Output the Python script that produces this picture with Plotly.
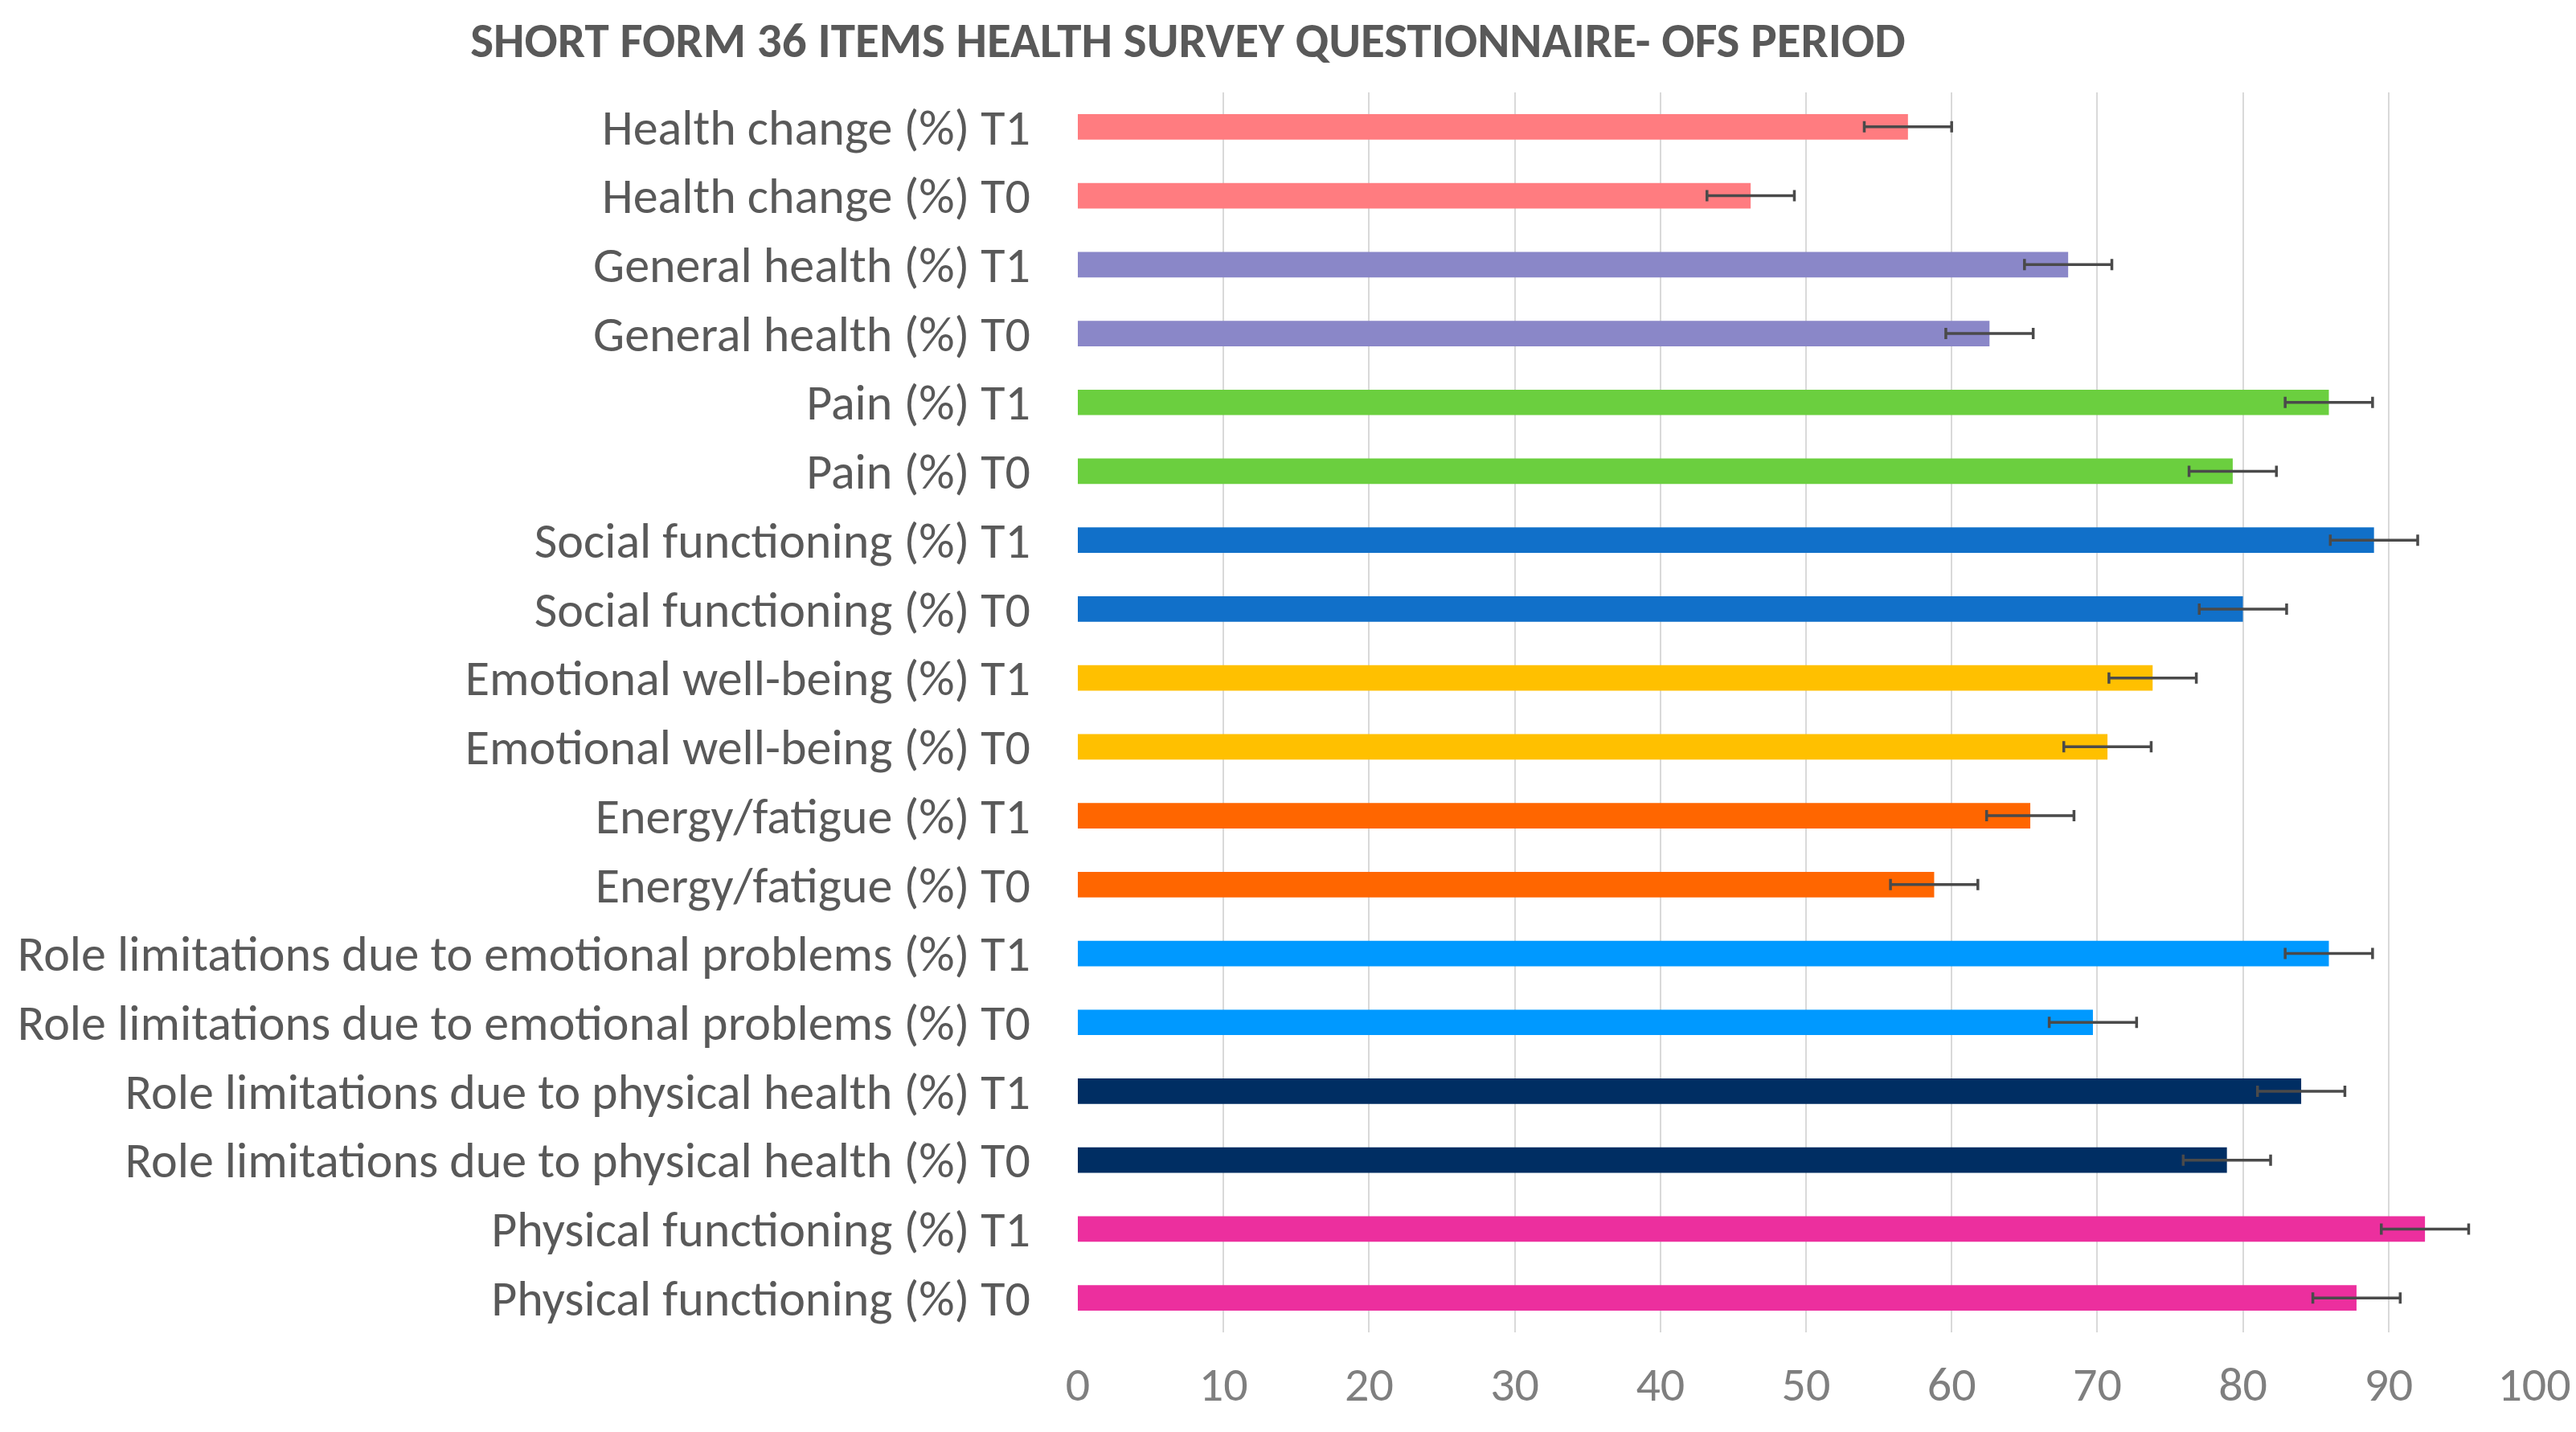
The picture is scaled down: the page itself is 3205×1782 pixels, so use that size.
import plotly.graph_objects as go

# Data (top to bottom as shown in the chart)
categories = [
    "Health change (%) T1",
    "Health change (%) T0",
    "General health (%) T1",
    "General health (%) T0",
    "Pain (%) T1",
    "Pain (%) T0",
    "Social functioning (%) T1",
    "Social functioning (%) T0",
    "Emotional well-being (%) T1",
    "Emotional well-being (%) T0",
    "Energy/fatigue (%) T1",
    "Energy/fatigue (%) T0",
    "Role limitations due to emotional problems (%) T1",
    "Role limitations due to emotional problems (%) T0",
    "Role limitations due to physical health (%) T1",
    "Role limitations due to physical health (%) T0",
    "Physical functioning (%) T1",
    "Physical functioning (%) T0",
]
values = [57, 46.2, 68, 62.6, 85.9, 79.3, 89, 80, 73.8, 70.7, 65.4, 58.8,
          85.9, 69.7, 84, 78.9, 92.5, 87.8]
errors = [3, 3, 3, 3, 3, 3, 3, 3, 3, 3, 3, 3, 3, 3, 3, 3, 3, 3]
x_ticks = [0, 10, 20, 30, 40, 50, 60, 70, 80, 90, 100]

# Styles
group_colors = ["#FF7C80", "#8A87C8", "#6BCF3F", "#1170C9", "#FFC000",
                "#FF6600", "#0099FF", "#002E63", "#EC2F9E"]
bar_colors = [c for c in group_colors for _ in range(2)]

FONT = "Carlito, Calibri, Lato, sans-serif"

fig = go.Figure()
fig.add_trace(go.Bar(
    y=categories,
    x=values,
    orientation="h",
    marker=dict(color=bar_colors, line=dict(width=0)),
    error_x=dict(type="data", array=errors, visible=True,
                 color="#4A4A4A", thickness=3.5, width=7),
    hoverinfo="x+y",
))

fig.update_layout(
    width=3205,
    height=1782,
    paper_bgcolor="white",
    plot_bgcolor="white",
    margin=dict(l=1333, r=60, t=107, b=132),
    bargap=0.63,
    showlegend=False,
    title=dict(
        text="<b>SHORT FORM 36 ITEMS HEALTH SURVEY QUESTIONNAIRE- OFS PERIOD</b>",
        x=1470 / 3205, xanchor="center", xref="container",
        y=1 - 42 / 1782, yanchor="middle", yref="container",
        font=dict(family=FONT, size=61, color="#595959"),
    ),
    font=dict(family=FONT),
)

fig.update_xaxes(
    range=[0, 100],
    tickvals=x_ticks,
    ticktext=[str(t) for t in x_ticks],
    showgrid=True,
    gridcolor="#D9D9D9",
    gridwidth=2,
    zeroline=False,
    showline=False,
    tickfont=dict(family=FONT, size=60, color="#7F7F7F"),
    ticks="",
    ticklabelstandoff=24,
)

fig.update_yaxes(
    categoryorder="array",
    categoryarray=categories,
    autorange="reversed",
    showgrid=False,
    zeroline=False,
    showline=False,
    ticks="",
    tickfont=dict(family=FONT, size=62, color="#595959"),
    ticklabelstandoff=58,
)

fig.write_html("out.html")
